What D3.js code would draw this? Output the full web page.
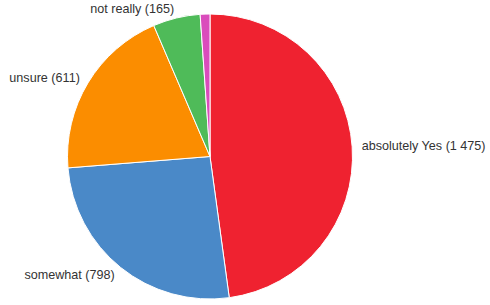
<!DOCTYPE html>
<html>
<head>
<meta charset="utf-8">
<script src="https://cdn.jsdelivr.net/npm/d3@7"></script>
<style>
  html, body { margin: 0; padding: 0; background: #fff; }
  svg { display: block; }
</style>
</head>
<body>
<svg id="chart" width="490" height="305"></svg>
<script>
const categories = ["absolutely Yes", "somewhat", "unsure", "not really", "not at all"];
const values = [1475, 798, 611, 165, 34];
const colors = ["#ef2230", "#4a89c8", "#fb8d00", "#4fbb59", "#da4cbc"];
const labelText = ["absolutely Yes (1 475)", "somewhat (798)", "unsure (611)", "not really (165)", ""];

const svg = d3.select("#chart");
const cx = 210, cy = 156.5, r = 142.5, labelR = 152;

const data = categories.map((c, i) => ({ name: c, value: values[i], color: colors[i], label: labelText[i] }));

const pie = d3.pie().value(d => d.value).sort(null);
const arcs = pie(data);
const arc = d3.arc().innerRadius(0).outerRadius(r);

const g = svg.append("g").attr("transform", `translate(${cx},${cy})`);

g.selectAll("path")
  .data(arcs)
  .join("path")
  .attr("d", arc)
  .attr("fill", d => d.data.color)
  .attr("stroke", "#fff")
  .attr("stroke-width", 1);

g.selectAll("text")
  .data(arcs.filter(d => d.data.label))
  .join("text")
  .attr("x", d => Math.sin((d.startAngle + d.endAngle) / 2) * labelR)
  .attr("y", d => -Math.cos((d.startAngle + d.endAngle) / 2) * labelR)
  .attr("text-anchor", d => ((d.startAngle + d.endAngle) / 2) < Math.PI ? "start" : "end")
  .attr("dominant-baseline", "central")
  .attr("font-family", "Arial, 'Liberation Sans', sans-serif")
  .attr("font-size", 12.6)
  .attr("fill", "#333")
  .text(d => d.data.label);
</script>
</body>
</html>
